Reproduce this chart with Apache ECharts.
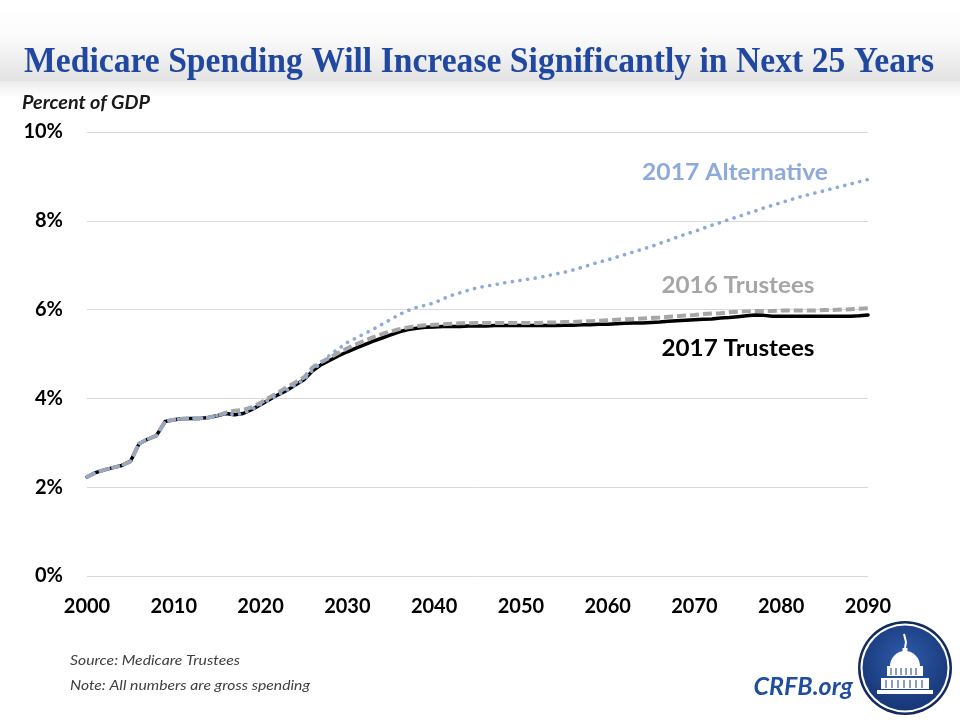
<!DOCTYPE html>
<html><head><meta charset="utf-8">
<script src="https://cdn.jsdelivr.net/npm/echarts@6/dist/echarts.min.js"></script>
<style>html,body{margin:0;padding:0;background:#fff}#c{width:960px;height:720px}</style>
</head><body><div id="c"></div>
<script>
const years = [2000,2001,2002,2003,2004,2005,2006,2007,2008,2009,
2010,2011,2012,2013,2014,2015,2016,2017,2018,2019,
2020,2021,2022,2023,2024,2025,2026,2027,2028,2029,
2030,2031,2032,2033,2034,2035,2036,2037,2038,2039,
2040,2041,2042,2043,2044,2045,2046,2047,2048,2049,
2050,2051,2052,2053,2054,2055,2056,2057,2058,2059,
2060,2061,2062,2063,2064,2065,2066,2067,2068,2069,
2070,2071,2072,2073,2074,2075,2076,2077,2078,2079,
2080,2081,2082,2083,2084,2085,2086,2087,2088,2089,2090];

const trustees2017 = [2.23,2.33,2.39,2.44,2.49,2.58,2.98,3.08,3.16,3.48,
3.52,3.54,3.55,3.55,3.57,3.61,3.66,3.63,3.66,3.75,
3.86,3.97,4.08,4.18,4.30,4.42,4.62,4.76,4.86,4.96,
5.05,5.13,5.21,5.29,5.36,5.43,5.50,5.55,5.58,5.60,
5.61,5.62,5.62,5.62,5.63,5.63,5.63,5.64,5.64,5.64,
5.64,5.64,5.64,5.64,5.64,5.65,5.65,5.66,5.66,5.67,
5.67,5.68,5.69,5.70,5.70,5.71,5.72,5.74,5.75,5.76,
5.77,5.78,5.79,5.81,5.82,5.84,5.86,5.88,5.87,5.85,
5.85,5.85,5.85,5.85,5.85,5.85,5.85,5.85,5.85,5.86,5.88];

const trustees2016 = [2.23,2.33,2.39,2.44,2.49,2.58,2.98,3.08,3.16,3.48,
3.52,3.54,3.55,3.55,3.57,3.61,3.68,3.72,3.74,3.80,
3.90,4.02,4.13,4.25,4.36,4.47,4.70,4.82,4.92,5.03,
5.13,5.22,5.30,5.38,5.45,5.51,5.56,5.60,5.63,5.65,
5.66,5.67,5.68,5.69,5.69,5.70,5.70,5.70,5.70,5.70,
5.70,5.70,5.70,5.71,5.71,5.72,5.72,5.73,5.74,5.75,
5.76,5.77,5.78,5.79,5.80,5.81,5.82,5.84,5.85,5.87,
5.88,5.90,5.91,5.92,5.94,5.95,5.96,5.97,5.97,5.97,
5.98,5.98,5.98,5.98,5.98,5.99,5.99,6.00,6.01,6.02,6.03];

const alternative2017 = [2.23,2.33,2.39,2.44,2.49,2.58,2.98,3.08,3.16,3.48,
3.52,3.54,3.55,3.55,3.57,3.61,3.66,3.63,3.66,3.75,
3.86,3.97,4.08,4.18,4.30,4.42,4.64,4.80,4.98,5.12,
5.26,5.36,5.46,5.56,5.67,5.78,5.89,5.98,6.05,6.10,
6.15,6.24,6.32,6.38,6.44,6.49,6.53,6.56,6.60,6.63,
6.66,6.69,6.72,6.76,6.80,6.84,6.89,6.95,7.01,7.07,
7.12,7.18,7.24,7.30,7.36,7.42,7.49,7.56,7.63,7.70,
7.76,7.83,7.90,7.96,8.03,8.09,8.16,8.22,8.29,8.35,
8.41,8.47,8.53,8.58,8.63,8.68,8.73,8.78,8.83,8.88,8.93];

const yTicks = [0,2,4,6,8,10];
const xTicks = [2000,2010,2020,2030,2040,2050,2060,2070,2080,2090];

const seriesNames = ['2017 Trustees','2016 Trustees','2017 Alternative'];
const titleText = 'Medicare Spending Will Increase Significantly in Next 25 Years';
const yAxisTitle = 'Percent of GDP';
const sourceText = 'Source: Medicare Trustees';
const noteText = 'Note: All numbers are gross spending';
const brandText = 'CRFB.org';

const pair = (vals) => years.map((y, i) => [y, vals[i]]);

const mctx = document.createElement('canvas').getContext('2d');
function fit(text, font, w) { mctx.font = font; return w / mctx.measureText(text).width; }

const titleFont = 'bold 35px "Liberation Serif", "DejaVu Serif", serif';
const titleScale = fit(titleText, titleFont, 910);
const lblFont = 'bold 22px Lato, "Open Sans", sans-serif';
const ytFont = 'italic bold 18px Lato, "Open Sans", sans-serif';
const noteFont = 'italic 14px Lato, "Open Sans", sans-serif';

const chart = echarts.init(document.getElementById('c'), null, {renderer: 'canvas'});

const stripe = (x, y1, y2) => ({type: 'line', shape: {x1: x, y1: y1, x2: x, y2: y2}, style: {stroke: '#1d3c7c', lineWidth: 1}});

chart.setOption({
  backgroundColor: '#ffffff',
  animation: false,
  grid: {left: 87, right: 92, top: 132, bottom: 144, containLabel: false},
  xAxis: {
    type: 'value', min: 2000, max: 2090, interval: 10,
    axisLine: {show: false}, axisTick: {show: false}, splitLine: {show: false},
    axisLabel: {color: '#000', fontFamily: 'Lato, "Open Sans", sans-serif', fontWeight: 'bold', fontSize: 20, margin: 21,
      formatter: v => xTicks.includes(v) ? String(v) : ''}
  },
  yAxis: {
    type: 'value', min: 0, max: 10, interval: 2,
    axisLine: {show: false}, axisTick: {show: false},
    splitLine: {show: true, lineStyle: {color: '#d9d9d9', width: 1}},
    axisLabel: {color: '#000', fontFamily: 'Lato, "Open Sans", sans-serif', fontWeight: 'bold', fontSize: 20, margin: 24,
      formatter: v => yTicks.includes(v) ? v + '%' : ''}
  },
  series: [
    {name: seriesNames[0], type: 'line', data: pair(trustees2017), showSymbol: false, symbol: 'none',
      lineStyle: {color: '#000000', width: 3.5, cap: 'round', join: 'round'}, z: 2},
    {name: seriesNames[1], type: 'line', data: pair(trustees2016), showSymbol: false, symbol: 'none',
      lineStyle: {color: '#a6a6a6', width: 4, type: [9, 4], join: 'round'}, z: 3},
    {name: seriesNames[2], type: 'line', data: pair(alternative2017), showSymbol: false, symbol: 'none',
      lineStyle: {color: '#8eaadb', width: 3.6, type: [0.1, 7.6], cap: 'round', join: 'round'}, z: 4}
  ],
  graphic: [
    {type: 'rect', left: 0, top: 0, z: -10, silent: true,
      shape: {width: 960, height: 81},
      style: {fill: new echarts.graphic.LinearGradient(0, 0, 0, 1, [
        {offset: 0, color: '#ffffff'}, {offset: 0.45, color: '#fbfbfb'}, {offset: 1, color: '#e3e3e3'}])}},
    {type: 'rect', left: 0, top: 81, z: -10, silent: true,
      shape: {width: 960, height: 16},
      style: {fill: new echarts.graphic.LinearGradient(0, 0, 0, 1, [
        {offset: 0, color: '#ececec'}, {offset: 1, color: '#ffffff'}])}},
    {type: 'text', x: 479, y: 63, scaleX: titleScale, z: 10, silent: true,
      style: {text: titleText, font: titleFont, fill: '#2148a0', align: 'center', verticalAlign: 'middle'}},
    {type: 'text', x: 22, y: 103, z: 10, silent: true, scaleX: fit(yAxisTitle, ytFont, 128),
      style: {text: yAxisTitle, font: ytFont, fill: '#1a1a1a', align: 'left', verticalAlign: 'middle'}},
    {type: 'text', x: 735, y: 173, z: 10, silent: true, scaleX: fit(seriesNames[2], lblFont, 186),
      style: {text: seriesNames[2], font: lblFont, fill: '#8eaadb', align: 'center', verticalAlign: 'middle'}},
    {type: 'text', x: 738, y: 286, z: 10, silent: true, scaleX: fit(seriesNames[1], lblFont, 153),
      style: {text: seriesNames[1], font: lblFont, fill: '#a6a6a6', align: 'center', verticalAlign: 'middle'}},
    {type: 'text', x: 738, y: 349, z: 10, silent: true, scaleX: fit(seriesNames[0], lblFont, 153),
      style: {text: seriesNames[0], font: lblFont, fill: '#000000', align: 'center', verticalAlign: 'middle'}},
    {type: 'text', x: 70, y: 660, z: 10, silent: true, scaleX: fit(sourceText, noteFont, 170),
      style: {text: sourceText, font: noteFont, fill: '#404040', align: 'left', verticalAlign: 'middle'}},
    {type: 'text', x: 70, y: 685, z: 10, silent: true, scaleX: fit(noteText, noteFont, 240),
      style: {text: noteText, font: noteFont, fill: '#404040', align: 'left', verticalAlign: 'middle'}},
    {type: 'text', x: 853, y: 687, z: 10, silent: true,
      style: {text: brandText, font: 'italic bold 25px Lato, "Open Sans", sans-serif', fill: '#1f4e9d', align: 'right', verticalAlign: 'middle'}},
    {type: 'group', x: 905, y: 668, z: 10, silent: true, children: [
      {type: 'circle', shape: {cx: 0, cy: 0, r: 47}, style: {fill: '#142a5e'}},
      {type: 'circle', shape: {cx: 0, cy: 0, r: 44.5}, style: {fill: '#ffffff'}},
      {type: 'circle', shape: {cx: 0, cy: 0, r: 42.5}, style: {fill: new echarts.graphic.RadialGradient(0.5, 0.4, 0.7, [
        {offset: 0, color: '#2f5cab'}, {offset: 1, color: '#13306d'}])}},
      {type: 'polyline', shape: {points: [[-1, -34], [1, -26], [0, -20]]}, style: {stroke: '#ffffff', lineWidth: 2, fill: null}},
      {type: 'rect', shape: {x: -2.5, y: -20, width: 5, height: 5}, style: {fill: '#ffffff'}},
      {type: 'sector', shape: {cx: 0, cy: -2, r0: 0, r: 15, startAngle: Math.PI, endAngle: Math.PI * 2, clockwise: true}, style: {fill: '#ffffff'}},
      {type: 'rect', shape: {x: -18, y: -2, width: 36, height: 10}, style: {fill: '#ffffff'}},
      {type: 'rect', shape: {x: -24, y: 10, width: 48, height: 11}, style: {fill: '#ffffff'}},
      {type: 'rect', shape: {x: -28, y: 22, width: 56, height: 4}, style: {fill: '#ffffff'}},
      stripe(-14, 0, 7), stripe(-9, 0, 7), stripe(-4, 0, 7), stripe(1, 0, 7), stripe(6, 0, 7), stripe(11, 0, 7),
      stripe(-19, 12, 20), stripe(-13, 12, 20), stripe(-7, 12, 20), stripe(-1, 12, 20), stripe(5, 12, 20), stripe(11, 12, 20), stripe(17, 12, 20)
    ]}
  ]
});
</script>
</body></html>
